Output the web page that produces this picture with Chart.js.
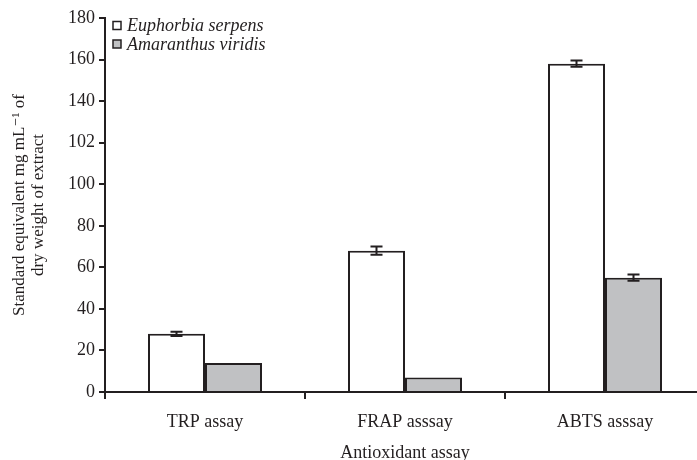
<!DOCTYPE html>
<html>
<head>
<meta charset="utf-8">
<script src="https://cdn.jsdelivr.net/npm/chart.js@4.4.0/dist/chart.umd.min.js"></script>
<style>
  html, body { margin: 0; padding: 0; background: #fff; overflow: hidden; }
  #wrap { width: 697px; height: 460px; overflow: hidden; }
</style>
</head>
<body>
<div id="wrap"><canvas id="chart" width="710" height="460"></canvas></div>
<script>
// data
var categories = ['TRP assay', 'FRAP asssay', 'ABTS asssay'];
var euphorbia = [28, 68, 158];
var euphorbiaErr = [1, 2, 1.5];
var amaranthus = [14, 7, 55];
var amaranthusErr = [0, 0, 1.5];
var yTickLabels = ['0', '20', '40', '60', '80', '100', '102', '140', '160', '180'];

var ink = '#231f20';
var serif = "'Liberation Serif', 'DejaVu Serif', serif";

// error bars drawn at the bar positions from the scales
var errorBars = {
    id: 'errorBars',
    afterDatasetsDraw: function(chart) {
        var ctx = chart.ctx;
        var y = chart.scales.y;
        ctx.save();
        ctx.strokeStyle = ink;
        ctx.lineWidth = 2;
        chart.data.datasets.forEach(function(ds, i) {
            var meta = chart.getDatasetMeta(i);
            meta.data.forEach(function(bar, j) {
                var e = ds.errors[j];
                if (!e) return;
                var top = y.getPixelForValue(ds.data[j] + e);
                var bot = y.getPixelForValue(ds.data[j] - e);
                ctx.beginPath();
                ctx.moveTo(bar.x, top); ctx.lineTo(bar.x, bot);
                ctx.moveTo(bar.x - 6, top); ctx.lineTo(bar.x + 6, top);
                ctx.moveTo(bar.x - 6, bot); ctx.lineTo(bar.x + 6, bot);
                ctx.stroke();
            });
        });
        ctx.restore();
    }
};

// legend inside the plot, top left
var innerLegend = {
    id: 'innerLegend',
    afterDraw: function(chart) {
        var ctx = chart.ctx;
        var x0 = chart.chartArea.left + 8;
        var rows = [25.5, 44];
        ctx.save();
        ctx.font = 'italic 18px ' + serif;
        ctx.textBaseline = 'middle';
        chart.data.datasets.forEach(function(ds, i) {
            var yy = rows[i];
            ctx.fillStyle = ds.backgroundColor;
            ctx.fillRect(x0, yy - 4, 8, 8);
            ctx.strokeStyle = ink;
            ctx.lineWidth = 1.5;
            ctx.strokeRect(x0, yy - 4, 8, 8);
            ctx.fillStyle = ink;
            ctx.fillText(ds.label, x0 + 14, yy + 1);
        });
        ctx.restore();
    }
};

var ctx = document.getElementById('chart').getContext('2d');
new Chart(ctx, {
    type: 'bar',
    data: {
        labels: categories,
        datasets: [{
            label: 'Euphorbia serpens',
            data: euphorbia,
            errors: euphorbiaErr,
            backgroundColor: '#ffffff',
            borderColor: ink,
            borderWidth: 2,
            categoryPercentage: 0.57,
            barPercentage: 1.0
        }, {
            label: 'Amaranthus viridis',
            data: amaranthus,
            errors: amaranthusErr,
            backgroundColor: '#c0c1c3',
            borderColor: ink,
            borderWidth: 2,
            categoryPercentage: 0.57,
            barPercentage: 1.0
        }]
    },
    options: {
        responsive: false,
        animation: false,
        layout: { padding: { top: 18, right: 5, left: 10, bottom: 0 } },
        plugins: {
            legend: { display: false },
            tooltip: { enabled: false }
        },
        scales: {
            x: {
                grid: { drawOnChartArea: false, tickLength: 7, color: ink, lineWidth: 2, offset: true },
                border: { color: ink, width: 2 },
                ticks: { color: ink, font: { family: serif, size: 18 }, padding: 12 },
                title: { display: true, text: 'Antioxidant assay', color: ink, font: { family: serif, size: 18 }, padding: { top: 6, bottom: -4 } },
                afterFit: function(s) { s.height = 68; }
            },
            y: {
                min: 0,
                max: 180,
                ticks: {
                    stepSize: 20,
                    color: ink,
                    font: { family: serif, size: 18 },
                    padding: 4,
                    callback: function(v, i) { return yTickLabels[i]; }
                },
                grid: { drawOnChartArea: false, tickLength: 6, color: ink, lineWidth: 2 },
                border: { color: ink, width: 2 },
                title: {
                    display: true,
                    text: ['Standard equivalent mg mL\u207B\u00B9 of', 'dry weight of extract'],
                    color: ink,
                    font: { family: serif, size: 17, lineHeight: 1.1 },
                    padding: { top: 0, bottom: 8 }
                },
                afterFit: function(s) { s.width = 95; }
            }
        }
    },
    plugins: [errorBars, innerLegend]
});
</script>
</body>
</html>
